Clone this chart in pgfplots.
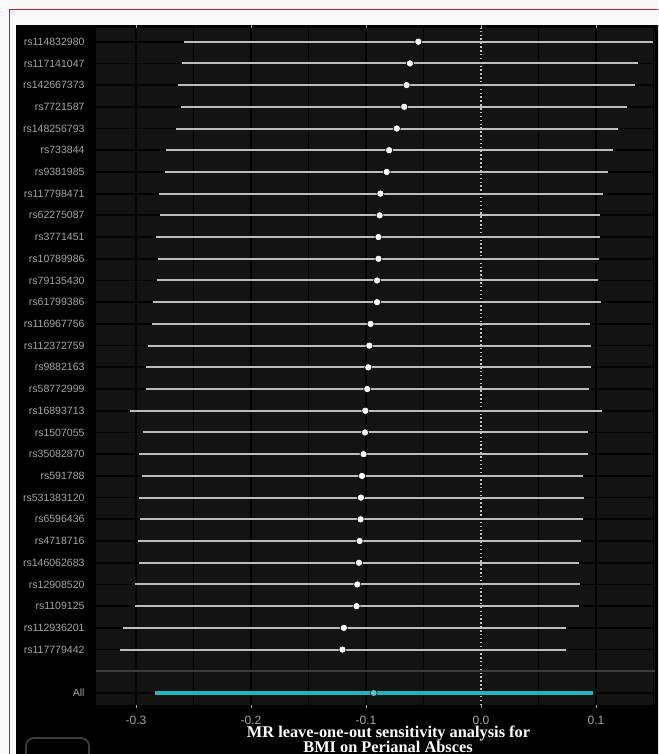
\documentclass[border=0pt]{standalone}
\usepackage{pgfplots}
\pgfplotsset{compat=1.18}
\usepackage{pgfplotstable}
\usepackage{fontspec}
\setmainfont{Liberation Sans}
\newfontfamily\titlefont{Liberation Serif}

\definecolor{pagebg}{HTML}{F9F9F9}
\definecolor{framered}{HTML}{C41E3A}
\definecolor{plotbg}{HTML}{131313}
\definecolor{gridcol}{HTML}{030303}
\definecolor{segcol}{HTML}{BDBDBD}
\definecolor{zerocol}{HTML}{C4C4C4}
\definecolor{hlinecol}{HTML}{3C3C3C}
\definecolor{allline}{HTML}{1DB8BC}
\definecolor{allpt}{HTML}{3FD2D2}
\definecolor{ticklab}{HTML}{A4A4A4}
\definecolor{btncol}{HTML}{3E3E3E}

% leave-one-out estimates: row position, beta, lower and upper 95% limits
\pgfplotstableread{
y  b        lo       hi
31 -0.0545  -0.2580  0.1496
30 -0.0618  -0.2596  0.1368
29 -0.0647  -0.2631  0.1342
28 -0.0668  -0.2607  0.1269
27 -0.0732  -0.2654  0.1193
26 -0.0799  -0.2736  0.1146
25 -0.0820  -0.2745  0.1105
24 -0.0875  -0.2803  0.1059
23 -0.0881  -0.2791  0.1035
22 -0.0892  -0.2823  0.1035
21 -0.0892  -0.2808  0.1026
20 -0.0904  -0.2820  0.1018
19 -0.0904  -0.2852  0.1044
18 -0.0960  -0.2864  0.0951
17 -0.0971  -0.2896  0.0960
16 -0.0980  -0.2911  0.0954
15 -0.0989  -0.2916  0.0942
14 -0.1006  -0.3050  0.1050
13 -0.1009  -0.2940  0.0927
12 -0.1021  -0.2972  0.0933
11 -0.1035  -0.2946  0.0884
10 -0.1044  -0.2972  0.0892
9  -0.1047  -0.2969  0.0887
8  -0.1056  -0.2983  0.0872
7  -0.1061  -0.2972  0.0852
6  -0.1076  -0.3010  0.0860
5  -0.1082  -0.3012  0.0849
4  -0.1193  -0.3117  0.0741
3  -0.1205  -0.3138  0.0738
}\loo

% estimate using all variants
\pgfplotstableread{
y  b        lo       hi
1  -0.0933  -0.2838  0.0974
}\looall

\begin{document}
\begin{tikzpicture}[x=0.75pt,y=0.75pt]
\useasboundingbox (0,0) rectangle (658,754);
\clip (0,0) rectangle (658,754);
\fill[pagebg] (0,0) rectangle (658,754);
\draw[framered, line width=0.9pt] (9.3,-5) -- (9.3,744.7) -- (670,744.7);
\fill[black] (16,-5) rectangle (670,729);
\draw[btncol, line width=1.3pt, rounded corners=6pt] (26,-12) rectangle (89,16);

\begin{axis}[
  at={(72pt,36.75pt)}, anchor=south west,
  scale only axis, width=419.25pt, height=507.75pt,
  xmin=-0.3348, xmax=0.1513, ymin=0.447, ymax=31.63,
  axis background/.style={fill=plotbg},
  axis line style={draw=none},
  xtick={-0.3,-0.2,-0.1,0,0.1},
  xticklabels={-0.3,-0.2,-0.1,0.0,0.1},
  minor xtick={-0.25,-0.15,-0.05,0.05,0.15},
  ytick={1,2,...,31},
  yticklabels={All,{},rs117779442,rs112936201,rs1109125,rs12908520,rs146062683,rs4718716,rs6596436,rs531383120,rs591788,rs35082870,rs1507055,rs16893713,rs58772999,rs9882163,rs112372759,rs116967756,rs61799386,rs79135430,rs10789986,rs3771451,rs62275087,rs117798471,rs9381985,rs733844,rs148256793,rs7721587,rs142667373,rs117141047,rs114832980},
  xmajorgrids, xminorgrids, ymajorgrids,
  major grid style={gridcol, line width=1.3pt},
  minor grid style={gridcol, line width=0.7pt},
  tick align=outside,
  major tick length=2.4pt, minor tick length=0pt,
  xtick style={ticklab, line width=0.7pt},
  ytick style={draw=none},
  xticklabel style={font=\fontsize{9}{9}\selectfont, color=ticklab, anchor=base, inner sep=0pt, yshift=-12.3pt},
  yticklabel style={font=\fontsize{7.9}{8}\selectfont, color=ticklab, anchor=east, inner sep=0pt, xshift=-6pt},
]
% reference line at zero effect
\addplot[zerocol, line width=1pt, dash pattern=on 1.1pt off 1.8pt] coordinates {(0,0.447) (0,31.63)};
% confidence intervals
\addplot[only marks, mark=none,
  error bars/.cd, x dir=both, x explicit, error mark=none,
  error bar style={segcol, line width=1.5pt}]
  table[x=b, y=y, x error plus expr=\thisrow{hi}-\thisrow{b}, x error minus expr=\thisrow{b}-\thisrow{lo}] {\loo};
% point estimates
\addplot[only marks, mark=*, mark size=2.7pt, mark options={fill=white, draw=none}]
  table[x=b, y=y] {\loo};
% all-variant estimate
\addplot[only marks, mark=*, mark size=2.6pt, mark options={fill=allpt, draw=none},
  error bars/.cd, x dir=both, x explicit, error mark=none,
  error bar style={allline, line width=2.4pt}]
  table[x=b, y=y, x error plus expr=\thisrow{hi}-\thisrow{b}, x error minus expr=\thisrow{b}-\thisrow{lo}] {\looall};
% separator between single-variant rows and the overall estimate
\addplot[hlinecol, line width=1.5pt] coordinates {(-0.3348,2) (0.1513,2)};
\end{axis}

\node[anchor=base, inner sep=0pt, white, font=\titlefont\bfseries\fontsize{12.25}{12}\selectfont] at (388.5,16.1) {MR leave-one-out sensitivity analysis for};
\node[anchor=base, inner sep=0pt, white, font=\titlefont\bfseries\fontsize{12.25}{12}\selectfont] at (388,1.6) {BMI on Perianal Absces};
\end{tikzpicture}
\end{document}
